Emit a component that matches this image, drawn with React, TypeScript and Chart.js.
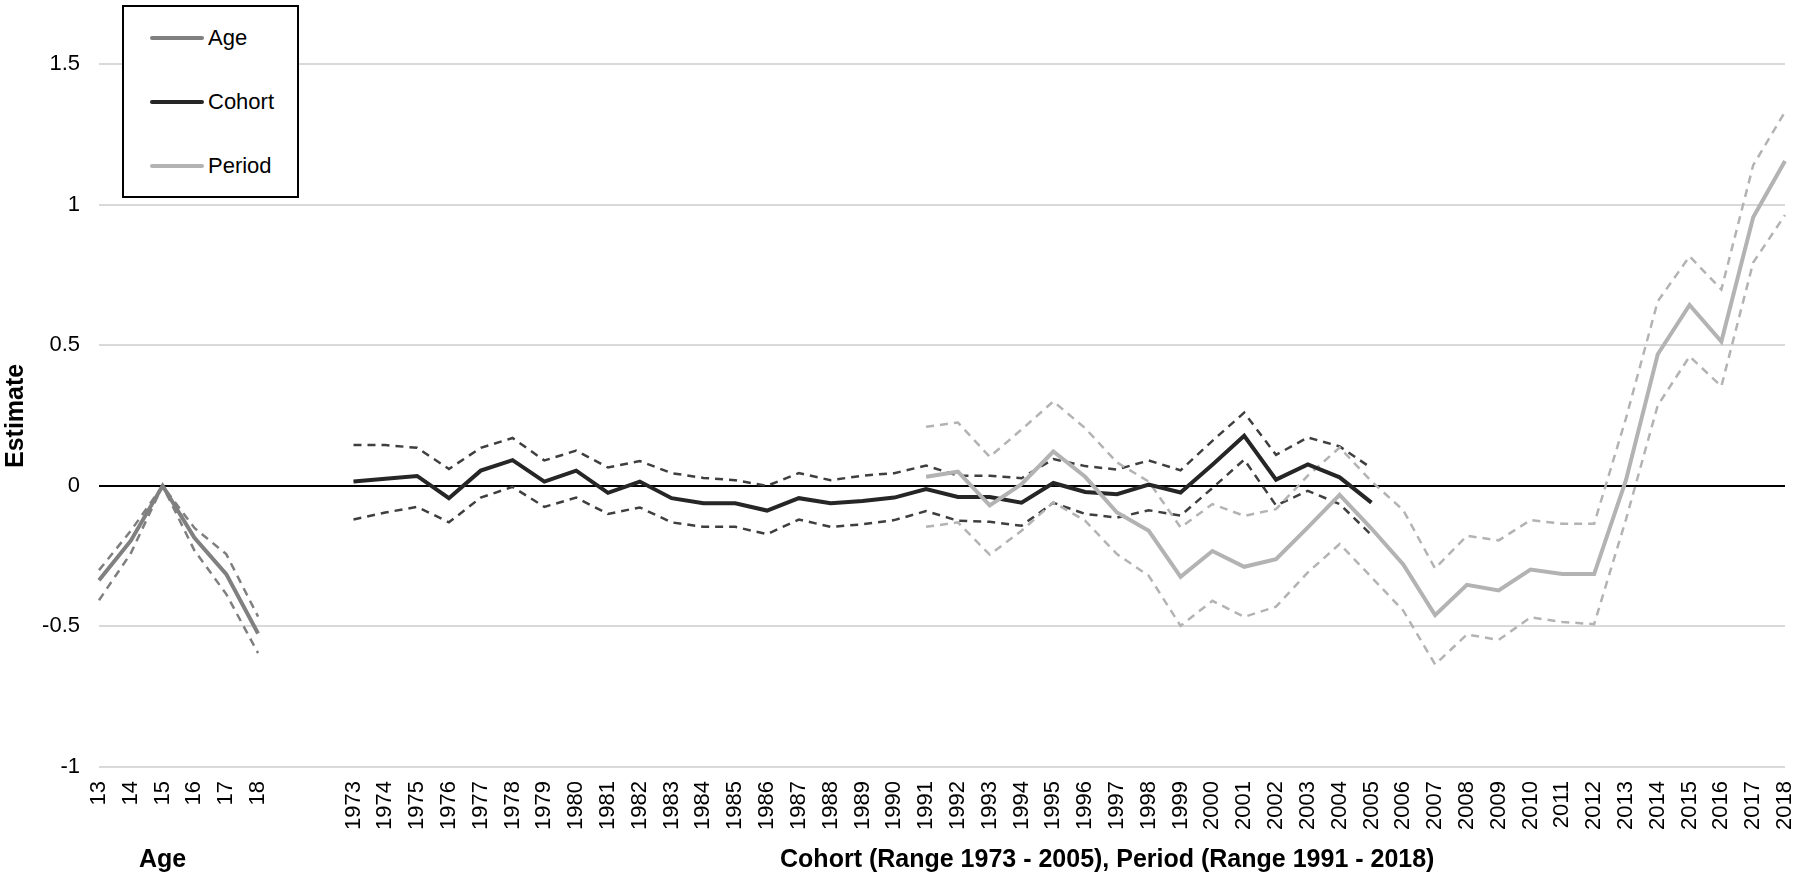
import React, { useEffect, useRef } from "react";
import { Chart, registerables } from "chart.js";

Chart.register(...registerables);

const FONT = "'Liberation Sans', Arial, Helvetica, sans-serif";

// ---- categories / tick labels ----
const ageLabels = ["13", "14", "15", "16", "17", "18"];
const gapLabels = ["", ""];
const yearLabels = [
  "1973", "1974", "1975", "1976", "1977", "1978", "1979", "1980", "1981", "1982",
  "1983", "1984", "1985", "1986", "1987", "1988", "1989", "1990", "1991", "1992",
  "1993", "1994", "1995", "1996", "1997", "1998", "1999", "2000", "2001", "2002",
  "2003", "2004", "2005", "2006", "2007", "2008", "2009", "2010", "2011", "2012",
  "2013", "2014", "2015", "2016", "2017", "2018",
];
const yTickValues = [-1, -0.5, 0, 0.5, 1, 1.5];

// ---- Age (13 - 18) ----
const ageEstimate = [-0.336, -0.195, 0, -0.185, -0.314, -0.525];
const ageUpper = [-0.3, -0.16, 0, -0.15, -0.243, -0.465];
const ageLower = [-0.407, -0.24, 0, -0.23, -0.385, -0.595];

// ---- Cohort (1973 - 2005) ----
const cohortEstimate = [
  0.015, 0.025, 0.035, -0.044, 0.054, 0.091, 0.015, 0.054, -0.025, 0.015,
  -0.044, -0.062, -0.062, -0.088, -0.044, -0.062, -0.054, -0.042, -0.012, -0.04,
  -0.04, -0.06, 0.01, -0.022, -0.03, 0.004, -0.024, 0.075, 0.178, 0.022,
  0.076, 0.03, -0.06,
];
const cohortUpper = [
  0.145, 0.145, 0.135, 0.06, 0.135, 0.17, 0.09, 0.125, 0.065, 0.088,
  0.045, 0.028, 0.02, 0.0, 0.045, 0.02, 0.036, 0.045, 0.072, 0.036,
  0.036, 0.027, 0.095, 0.07, 0.058, 0.09, 0.055, 0.16, 0.26, 0.11,
  0.172, 0.14, 0.063,
];
const cohortLower = [
  -0.12, -0.095, -0.075, -0.13, -0.042, -0.004, -0.075, -0.042, -0.1, -0.077,
  -0.13, -0.146, -0.146, -0.172, -0.12, -0.146, -0.137, -0.122, -0.09, -0.124,
  -0.128, -0.142, -0.06, -0.1, -0.113, -0.087, -0.106, -0.008, 0.093, -0.07,
  -0.018, -0.065, -0.175,
];

// ---- Period (1991 - 2018) ----
const periodEstimate = [
  0.032, 0.05, -0.07, 0.006, 0.122, 0.032, -0.095, -0.16, -0.324, -0.232,
  -0.288, -0.261, -0.148, -0.032, -0.152, -0.28, -0.46, -0.352, -0.372, -0.298,
  -0.314, -0.314, 0.02, 0.468, 0.643, 0.513, 0.955, 1.155,
];
const periodUpper = [
  0.21, 0.225, 0.103, 0.2, 0.3, 0.205, 0.083, 0.015, -0.148, -0.065,
  -0.107, -0.083, 0.036, 0.136, 0.016, -0.087, -0.294, -0.178, -0.194, -0.122,
  -0.135, -0.135, 0.24, 0.656, 0.816, 0.698, 1.14, 1.33,
];
const periodLower = [
  -0.146, -0.13, -0.245, -0.16, -0.059, -0.124, -0.243, -0.32, -0.498, -0.409,
  -0.466, -0.43, -0.308, -0.207, -0.325, -0.444, -0.635, -0.529, -0.548, -0.468,
  -0.484, -0.492, -0.12, 0.286, 0.46, 0.354, 0.794, 0.963,
];

const seriesNames = ["Age", "Cohort", "Period"];
const seriesColors = ["#808080", "#262626", "#b3b3b3"];
const dashColors = ["#7f7f7f", "#3f3f3f", "#b3b3b3"];

const allLabels = [...ageLabels, ...gapLabels, ...yearLabels];

function place(values: number[], startLabel: string) {
  const arr: (number | null)[] = allLabels.map(() => null);
  const start = allLabels.indexOf(startLabel);
  values.forEach((v, i) => {
    arr[start + i] = v;
  });
  return arr;
}

const titlesPlugin = {
  id: "axisTitles",
  afterDraw(chart: any) {
    const { ctx, scales } = chart;
    const x = scales.x;
    ctx.save();
    ctx.fillStyle = "#000";
    ctx.textAlign = "center";
    ctx.textBaseline = "alphabetic";
    ctx.font = `bold 25px ${FONT}`;
    const ageCenter = x.getPixelForValue(allLabels.indexOf("15"));
    ctx.fillText("Age", ageCenter, 867);
    const c0 = x.getPixelForValue(allLabels.indexOf("1973"));
    const c1 = x.getPixelForValue(allLabels.indexOf("2018"));
    ctx.fillText(
      "Cohort (Range 1973 - 2005), Period (Range 1991 - 2018)",
      (c0 + c1) / 2 + 38,
      867
    );
    ctx.translate(23, 468);
    ctx.rotate(-Math.PI / 2);
    ctx.textAlign = "left";
    ctx.font = `bold 25px ${FONT}`;
    ctx.fillText("Estimate", 0, 0);
    ctx.restore();
  },
};

function solid(label: string, data: (number | null)[], color: string) {
  return {
    label,
    data,
    borderColor: color,
    backgroundColor: color,
    borderWidth: 4,
    pointRadius: 0,
    pointHoverRadius: 0,
    tension: 0,
    fill: false,
  };
}
function dashed(label: string, data: (number | null)[], color: string) {
  return {
    label,
    data,
    borderColor: color,
    backgroundColor: color,
    borderWidth: 2.5,
    borderDash: [8, 6],
    pointRadius: 0,
    pointHoverRadius: 0,
    tension: 0,
    fill: false,
  };
}

export default function App() {
  const canvasRef = useRef<HTMLCanvasElement | null>(null);

  useEffect(() => {
    if (!canvasRef.current) return;
    const chart = new Chart(canvasRef.current, {
      type: "line",
      data: {
        labels: allLabels,
        datasets: [
          solid("Period", place(periodEstimate, "1991"), seriesColors[2]),
          solid("Cohort", place(cohortEstimate, "1973"), seriesColors[1]),
          solid("Age", place(ageEstimate, "13"), seriesColors[0]),
          dashed("Period upper", place(periodUpper, "1991"), dashColors[2]),
          dashed("Period lower", place(periodLower, "1991"), dashColors[2]),
          dashed("Cohort upper", place(cohortUpper, "1973"), dashColors[1]),
          dashed("Cohort lower", place(cohortLower, "1973"), dashColors[1]),
          dashed("Age upper", place(ageUpper, "13"), dashColors[0]),
          dashed("Age lower", place(ageLower, "13"), dashColors[0]),
        ],
      },
      options: {
        responsive: false,
        animation: false,
        events: [],
        layout: { padding: { top: 64, right: 15, bottom: 0, left: 0 } },
        plugins: {
          legend: { display: false },
          tooltip: { enabled: false },
          title: { display: false },
        },
        scales: {
          x: {
            type: "category",
            offset: false,
            grid: { display: false, drawTicks: false },
            border: { display: false },
            ticks: {
              autoSkip: false,
              minRotation: 90,
              maxRotation: 90,
              padding: 14,
              color: "#000",
              font: { family: FONT, size: 22 },
            },
            afterFit(scale: any) {
              scale.height = 112;
              scale.paddingLeft = 0;
              scale.paddingRight = 0;
            },
          },
          y: {
            type: "linear",
            min: yTickValues[0],
            max: yTickValues[yTickValues.length - 1],
            afterBuildTicks(scale: any) {
              scale.ticks = yTickValues.map((v) => ({ value: v }));
            },
            grid: {
              drawTicks: false,
              color: (ctx: any) => (ctx.tick && ctx.tick.value === 0 ? "#000000" : "#d9d9d9"),
              lineWidth: 2,
            },
            border: { display: false },
            ticks: {
              padding: 19,
              color: "#000",
              font: { family: FONT, size: 22 },
              callback: (v: any) => String(v),
            },
            afterFit(scale: any) {
              scale.width = 99;
              scale.paddingTop = 0;
              scale.paddingBottom = 0;
            },
          },
        },
      },
      plugins: [titlesPlugin],
    });
    return () => chart.destroy();
  }, []);

  const legendCenters = [31, 95, 159];

  return (
    <div
      style={{
        position: "fixed",
        left: 0,
        top: 0,
        width: 1800,
        height: 879,
        background: "#fff",
        overflow: "hidden",
      }}
    >
      <canvas ref={canvasRef} width={1800} height={879} style={{ display: "block" }} />
      <div
        style={{
          position: "absolute",
          left: 122,
          top: 5,
          width: 177,
          height: 193,
          boxSizing: "border-box",
          border: "2px solid #000",
          background: "#fff",
          fontFamily: FONT,
          fontSize: 22,
          color: "#000",
        }}
      >
        {seriesNames.map((name, i) => (
          <React.Fragment key={name}>
            <div
              style={{
                position: "absolute",
                left: 26,
                top: legendCenters[i] - 2,
                width: 54,
                height: 4,
                borderRadius: 2,
                background: seriesColors[i],
              }}
            />
            <div
              style={{
                position: "absolute",
                left: 84,
                top: legendCenters[i] - 13,
                height: 26,
                lineHeight: "26px",
                whiteSpace: "nowrap",
              }}
            >
              {name}
            </div>
          </React.Fragment>
        ))}
      </div>
    </div>
  );
}
